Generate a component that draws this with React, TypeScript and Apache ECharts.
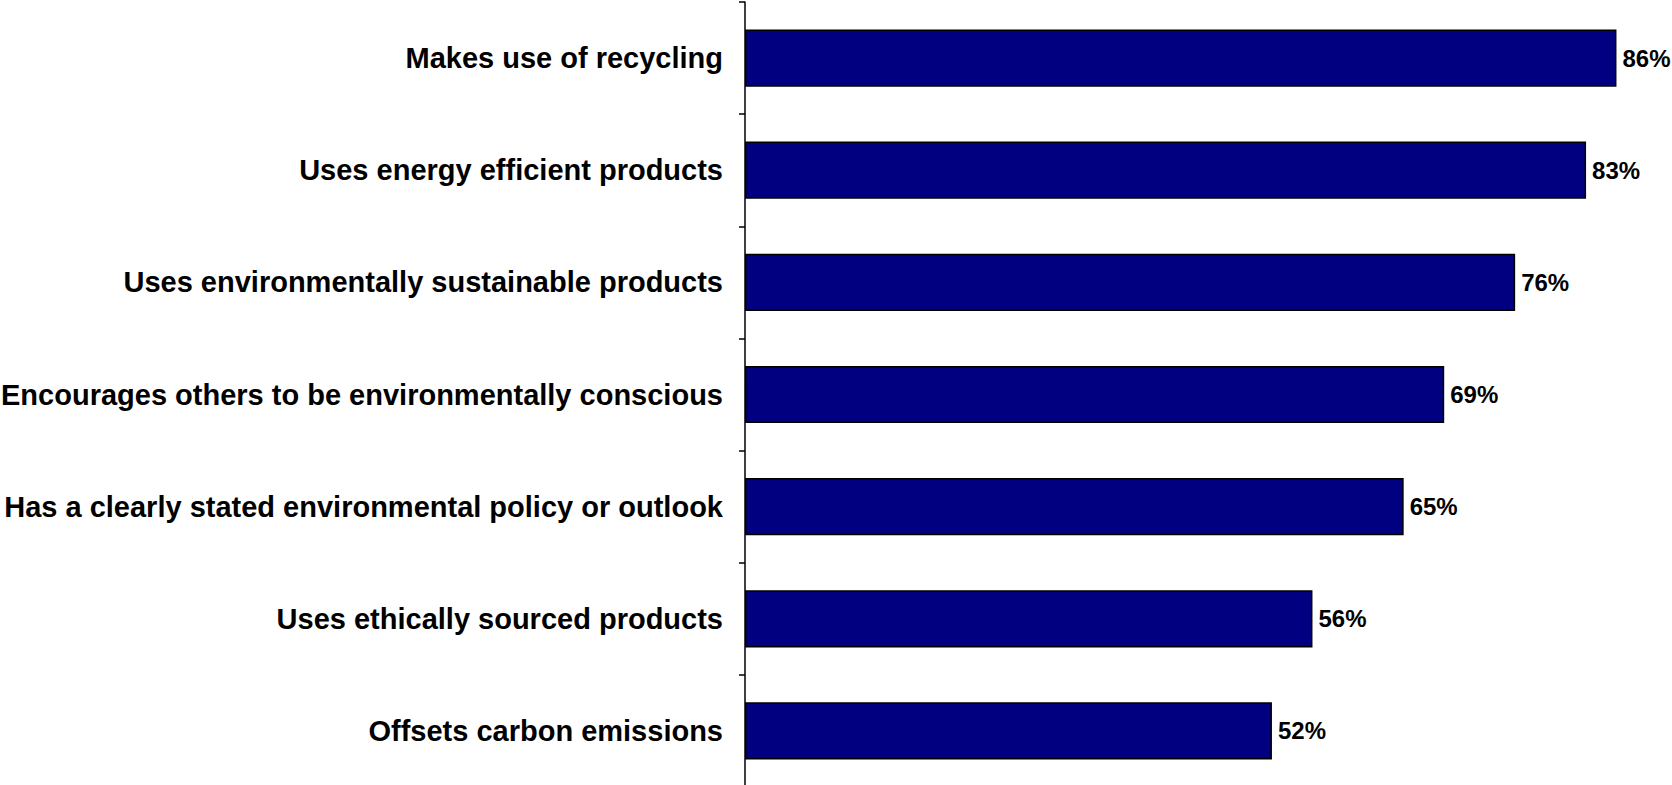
import React, { useEffect, useRef } from "react";
import * as echarts from "echarts";

const categories = [
  "Makes use of recycling",
  "Uses energy efficient products",
  "Uses environmentally sustainable products",
  "Encourages others to be environmentally conscious",
  "Has a clearly stated environmental policy or outlook",
  "Uses ethically sourced products",
  "Offsets carbon emissions",
];
const values = [86, 83, 76, 69, 65, 56, 52];

export default function App() {
  const ref = useRef<HTMLDivElement>(null);
  useEffect(() => {
    if (!ref.current) return;
    const chart = echarts.init(ref.current, null, { renderer: "svg" });
    chart.setOption({
      animation: false,
      grid: {
        left: 745,
        top: 2,
        right: 15,
        bottom: -2,
        containLabel: false,
        outerBoundsMode: "none",
      },
      xAxis: {
        type: "value",
        min: 0,
        max: 90,
        show: false,
      },
      yAxis: {
        type: "category",
        data: categories,
        inverse: true,
        axisLine: { show: true, lineStyle: { color: "#000", width: 1.5 } },
        axisTick: { show: true, length: 6, lineStyle: { color: "#000", width: 1.5 } },
        axisLabel: {
          margin: 22,
          color: "#000",
          fontFamily: "Liberation Sans, Arial, sans-serif",
          fontWeight: "bold",
          fontSize: 29,
        },
        splitLine: { show: false },
      },
      series: [
        {
          type: "bar",
          data: values,
          barCategoryGap: "49%",
          itemStyle: { color: "#000080", borderColor: "#000", borderWidth: 1.5 },
          label: {
            show: true,
            position: "right",
            distance: 6,
            formatter: "{c}%",
            color: "#000",
            fontFamily: "Liberation Sans, Arial, sans-serif",
            fontWeight: "bold",
            fontSize: 24,
          },
        },
      ],
    });
    return () => chart.dispose();
  }, []);
  return (
    <div
      ref={ref}
      style={{ position: "fixed", left: 0, top: 0, width: 1672, height: 785, background: "#fff" }}
    />
  );
}
